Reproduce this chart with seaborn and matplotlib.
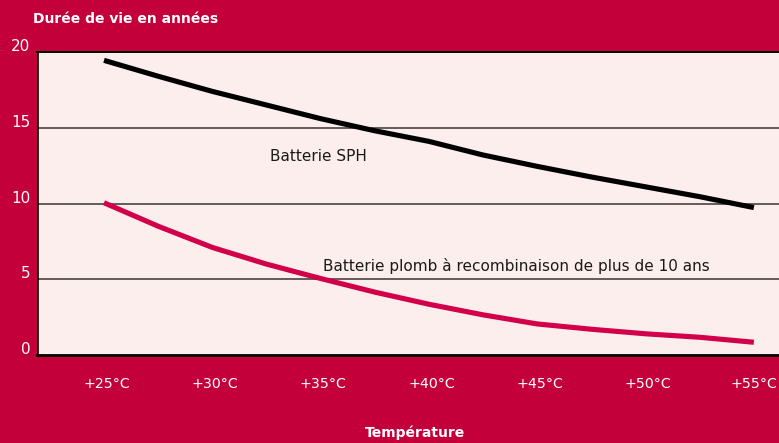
import matplotlib
matplotlib.use("Agg")
import matplotlib.pyplot as plt
import matplotlib.transforms as mtransforms
import seaborn as sns
import pandas as pd

# Data
temperatures = [25, 27.5, 30, 32.5, 35, 37.5, 40, 42.5, 45, 47.5, 50, 52.5, 55]
sph_life = [19.45, 18.4, 17.4, 16.5, 15.6, 14.8, 14.1, 13.2, 12.45, 11.75, 11.1, 10.45, 9.73]
lead_life = [10.05, 8.5, 7.1, 6.0, 5.05, 4.15, 3.35, 2.65, 2.05, 1.7, 1.4, 1.17, 0.84]
x_ticks = [25, 30, 35, 40, 45, 50, 55]
x_tick_labels = ["+25°C", "+30°C", "+35°C", "+40°C", "+45°C", "+50°C", "+55°C"]
y_ticks = [0, 5, 10, 15, 20]
y_tick_labels = ["0", "5", "10", "15", "20"]
series_names = ["Batterie SPH", "Batterie plomb à recombinaison de plus de 10 ans"]

df = pd.DataFrame({
    "Température": temperatures * 2,
    "Durée": sph_life + lead_life,
    "Série": [series_names[0]] * len(temperatures) + [series_names[1]] * len(temperatures),
})

BG = "#C4003A"
PLOT_BG = "#FBEEEC"
PINK = "#D2004A"

sns.set_theme(style="white")
plt.rcParams["font.family"] = ["DejaVu Sans"]

fig = plt.figure(figsize=(7.79, 4.43), dpi=100, facecolor=BG)
ax = fig.add_axes([37.5 / 779, (443 - 355) / 443, 1 - 37.5 / 779, (355 - 52) / 443])
ax.set_facecolor(PLOT_BG)

# gridlines
for v in [5, 10, 15]:
    ax.axhline(v, color="#4a4242", lw=1.2, zorder=1)

sns.lineplot(data=df, x="Température", y="Durée", hue="Série",
             palette={series_names[0]: "black", series_names[1]: PINK},
             lw=3.7, ax=ax, legend=False, zorder=3, estimator=None)
for ln in ax.get_lines():
    ln.set_solid_capstyle("butt")
    ln.set_solid_joinstyle("round")

ax.set_xlim(21.93, 56.16)
ax.set_ylim(0, 20)

ax.spines["right"].set_visible(False)
ax.spines["left"].set_color("black")
ax.spines["left"].set_linewidth(1.2)
ax.spines["top"].set_color("black")
ax.spines["top"].set_linewidth(1.4)
ax.spines["bottom"].set_color("black")
ax.spines["bottom"].set_linewidth(2.0)

ax.set_xticks(x_ticks)
ax.set_xticklabels(x_tick_labels, color="white", fontsize=10.2)
ax.set_yticks(y_ticks)
ax.set_yticklabels(y_tick_labels, color="white", fontsize=11)
ax.tick_params(axis="x", length=0, pad=16)
ax.tick_params(axis="y", length=0, pad=5)
offset = mtransforms.ScaledTranslation(0, 5 / 72, fig.dpi_scale_trans)
for lab in ax.get_yticklabels():
    lab.set_transform(lab.get_transform() + offset)
offx = mtransforms.ScaledTranslation(2 / 72, 0, fig.dpi_scale_trans)
for lab in ax.get_xticklabels()[:-1]:
    lab.set_transform(lab.get_transform() + offx)

ax.set_xlabel("")
ax.set_ylabel("")

ax.text(32.68, 13.08, series_names[0], fontsize=11, color="#1a1a1a", va="center", ha="left")
ax.text(35.13, 5.88, series_names[1], fontsize=11, color="#1a1a1a", va="center", ha="left")

fig.text(33 / 779, 1 - 19 / 443, "Durée de vie en années", color="white",
         fontsize=10, fontweight="bold", va="center", ha="left")
fig.text(415 / 779, 1 - 433 / 443, "Température", color="white",
         fontsize=10, fontweight="bold", va="center", ha="center")

fig.savefig("out.png", dpi=100, facecolor=BG)
